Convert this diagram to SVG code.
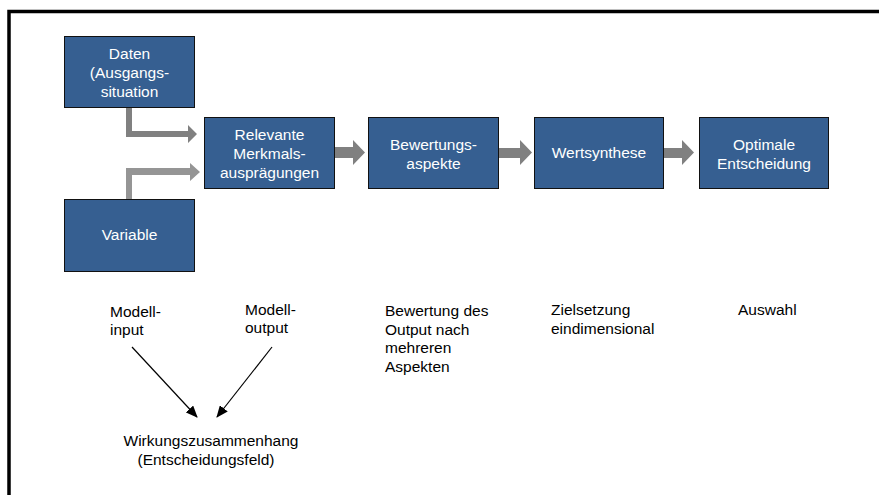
<svg xmlns="http://www.w3.org/2000/svg" width="879" height="495" viewBox="0 0 879 495">
<defs>
<style>
.box{fill:#365F91;stroke:#111;stroke-width:1}
.bt{font-family:"Liberation Sans",Arial,sans-serif;font-size:15.5px;fill:#fff;text-anchor:middle}
.lt{font-family:"Liberation Sans",Arial,sans-serif;font-size:15.5px;fill:#000}
.ga{fill:#808080}
.gb{fill:#959595}
.ln{stroke:#000;stroke-width:1.2;fill:none;marker-end:url(#ah)}
</style>
<marker id="ah" markerWidth="12" markerHeight="10" refX="11" refY="5" orient="auto" markerUnits="userSpaceOnUse">
<path d="M0,0 L12,5 L0,10 Z" fill="#000"/>
</marker>
</defs>
<rect width="879" height="495" fill="#fff"/>
<path d="M9,495 V11.5 H879" fill="none" stroke="#000" stroke-width="3.5"/>

<g id="connectors">
<polygon class="ga" points="126,107 132,107 132,131 188,131 188,125 197,134 188,143 188,137 126,137"/>
<polygon class="gb" points="126,199 126,168 190,168 190,163 200,172 190,181 190,175 132,175 132,199"/>
<polygon class="ga" points="334,147 353,147 353,140 365,152.5 353,165 353,158 334,158"/>
<polygon class="ga" points="499,148 520,148 520,140 532,152.5 520,165 520,158 499,158"/>
<polygon class="ga" points="663,148 682,148 682,140 694,152.5 682,165 682,158 663,158"/>
<line class="ln" x1="132" y1="347" x2="197" y2="417"/>
<line class="ln" x1="272" y1="347" x2="217" y2="417"/>
</g>

<g id="daten">
<rect class="box" x="64.5" y="36.5" width="130" height="71"/>
<text class="bt" x="129.5" y="59">Daten</text>
<text class="bt" x="129.5" y="78">(Ausgangs-</text>
<text class="bt" x="129.5" y="97">situation</text>
</g>
<g id="variable">
<rect class="box" x="64.5" y="199.5" width="130" height="72"/>
<text class="bt" x="129.5" y="240">Variable</text>
</g>
<g id="relevante">
<rect class="box" x="204.5" y="117.5" width="130" height="71"/>
<text class="bt" x="269.5" y="140">Relevante</text>
<text class="bt" x="269.5" y="159">Merkmals-</text>
<text class="bt" x="269.5" y="178">ausprägungen</text>
</g>
<g id="bewertungsaspekte">
<rect class="box" x="368.5" y="117.5" width="130" height="71"/>
<text class="bt" x="433.5" y="150">Bewertungs-</text>
<text class="bt" x="433.5" y="169">aspekte</text>
</g>
<g id="wertsynthese">
<rect class="box" x="534.5" y="117.5" width="129" height="71"/>
<text class="bt" x="599" y="158">Wertsynthese</text>
</g>
<g id="optimale">
<rect class="box" x="699.5" y="117.5" width="129" height="71"/>
<text class="bt" x="764" y="150">Optimale</text>
<text class="bt" x="764" y="169">Entscheidung</text>
</g>

<g id="modell-input">
<text class="lt" x="110" y="317">Modell-</text>
<text class="lt" x="110" y="335">input</text>
</g>
<g id="modell-output">
<text class="lt" x="245" y="315">Modell-</text>
<text class="lt" x="245" y="333">output</text>
</g>
<g id="bewertung">
<text class="lt" x="385" y="316">Bewertung des</text>
<text class="lt" x="385" y="334.5">Output nach</text>
<text class="lt" x="385" y="353">mehreren</text>
<text class="lt" x="385" y="371.5">Aspekten</text>
</g>
<g id="zielsetzung">
<text class="lt" x="551" y="315">Zielsetzung</text>
<text class="lt" x="551" y="333.5">eindimensional</text>
</g>
<g id="auswahl">
<text class="lt" x="738" y="315">Auswahl</text>
</g>
<g id="wirkung">
<text class="lt" x="211" y="446" text-anchor="middle">Wirkungszusammenhang</text>
<text class="lt" x="206" y="465" text-anchor="middle">(Entscheidungsfeld)</text>
</g>
</svg>
